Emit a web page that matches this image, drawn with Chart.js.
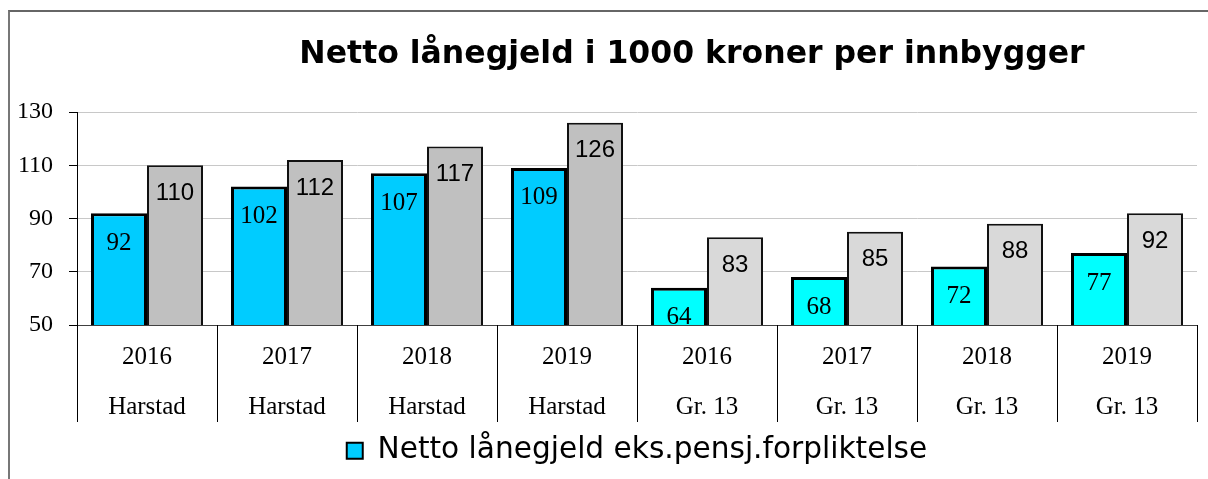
<!DOCTYPE html>
<html>
<head>
<meta charset="utf-8">
<script src="https://cdn.jsdelivr.net/npm/chart.js@4"></script>
<style>
  html, body { margin: 0; padding: 0; background: #fff; overflow: hidden; width: 1208px; height: 479px; }
  #frame { position: absolute; left: 8px; top: 10px; width: 1300px; height: 600px;
           border-left: 2px solid #777; border-top: 2px solid #666; }
  #chart { position: absolute; left: 0; top: 0; }
</style>
</head>
<body>
<div id="frame"></div>
<canvas id="chart" width="1208" height="479"></canvas>
<script>
// data
const years = ['2016', '2017', '2018', '2019', '2016', '2017', '2018', '2019']
const places = ['Harstad', 'Harstad', 'Harstad', 'Harstad', 'Gr. 13', 'Gr. 13', 'Gr. 13', 'Gr. 13']
const exclPension = [92, 102, 107, 109, 64, 68, 72, 77]
const inclPension = [110, 112, 117, 126, 83, 85, 88, 92]
const seriesNames = ['Netto lånegjeld eks.pensj.forpliktelse', 'Netto lånegjeld inkl.pensj.forpliktelse']
const yTicks = [50, 70, 90, 110, 130]
const chartTitle = 'Netto lånegjeld i 1000 kroner per innbygger'

const cyanColors = places.map(p => p === 'Harstad' ? '#00CCFF' : '#00FFFF')
const grayColors = places.map(p => p === 'Harstad' ? '#C0C0C0' : '#D9D9D9')

const sansFamily = '"DejaVu Sans", Verdana, "Liberation Sans", sans-serif'

// pick a font size so a text gets the width it has in the picture
const fitSize = (text, weight, width) => {
  const c = document.createElement('canvas').getContext('2d')
  c.font = weight + ' 100px ' + sansFamily
  return Math.round(100 * width / c.measureText(text).width * 10) / 10
}
const titleSize = fitSize(chartTitle, 'bold', 785)
const legendSize = fitSize(seriesNames[0], 'normal', 550)
const legendPad = 14
const bottomPad = Math.max(0, 61 - legendSize - 2 * legendPad)

// title sits right of centre in the original, so draw it by hand
const titlePlugin = {
  id: 'titleText',
  afterDraw(chart) {
    const ctx = chart.ctx
    ctx.save()
    ctx.font = 'bold ' + titleSize + 'px ' + sansFamily
    ctx.fillStyle = '#000'
    ctx.textAlign = 'center'
    ctx.textBaseline = 'middle'
    ctx.fillText(chartTitle, 692, 55)
    ctx.restore()
  }
}

// value labels inside top of each bar
const barLabels = {
  id: 'barLabels',
  afterDatasetsDraw(chart) {
    const ctx = chart.ctx
    ctx.save()
    ctx.fillStyle = '#000'
    ctx.textAlign = 'center'
    ctx.textBaseline = 'middle'
    chart.data.datasets.forEach((ds, di) => {
      ctx.font = di === 0 ? '25px "Liberation Serif"' : '24px "Liberation Sans"'
      chart.getDatasetMeta(di).data.forEach((bar, i) => {
        ctx.fillText(String(ds.data[i]), bar.x, bar.y + (di === 0 ? 30 : 28))
      })
    })
    ctx.restore()
  }
}

// vertical separators between the category cells under the axis
const separators = {
  id: 'separators',
  afterDraw(chart) {
    const xs = chart.scales.x
    const area = chart.chartArea
    const step = xs.getPixelForValue(1) - xs.getPixelForValue(0)
    const ctx = chart.ctx
    ctx.save()
    ctx.strokeStyle = '#000'
    ctx.lineWidth = 1
    for (let i = 0; i <= years.length; i++) {
      const x = Math.round(xs.getPixelForValue(i) - step / 2) + 0.5
      ctx.beginPath()
      ctx.moveTo(x, area.bottom)
      ctx.lineTo(x, area.bottom + 97)
      ctx.stroke()
    }
    ctx.restore()
  }
}

new Chart(document.getElementById('chart'), {
  type: 'bar',
  data: {
    labels: years.map((y, i) => [y, places[i]]),
    datasets: [{
      label: seriesNames[0],
      data: exclPension,
      backgroundColor: cyanColors,
      borderColor: '#000',
      borderWidth: 3
    }, {
      label: seriesNames[1],
      data: inclPension,
      backgroundColor: grayColors,
      borderColor: '#111',
      borderWidth: 2
    }]
  },
  options: {
    responsive: false,
    devicePixelRatio: 1,
    animation: false,
    layout: { padding: { top: 112, left: 10, right: 11, bottom: bottomPad } },
    datasets: { bar: { categoryPercentage: 0.8, barPercentage: 1.0 } },
    plugins: {
      title: { display: false },
      tooltip: { enabled: false },
      legend: {
        position: 'bottom',
        fullSize: false,
        labels: {
          font: { family: sansFamily, size: legendSize },
          color: '#000',
          boxWidth: 16,
          boxHeight: 16,
          padding: legendPad,
          generateLabels: () => [{
            text: seriesNames[0], fillStyle: '#00CCFF', strokeStyle: '#000',
            lineWidth: 2, datasetIndex: 0, hidden: false
          }]
        }
      }
    },
    scales: {
      x: {
        grid: { display: false },
        border: { display: true, color: '#404040', width: 1 },
        ticks: {
          color: '#000',
          padding: -1,
          maxRotation: 0,
          font: { family: '"Liberation Serif"', size: 25, lineHeight: 2 }
        },
        afterFit: s => { s.height = 97 }
      },
      y: {
        min: 50,
        max: 130,
        afterBuildTicks: s => { s.ticks = yTicks.map(v => ({ value: v })) },
        grid: { color: '#c8c8c8', tickColor: '#000', tickLength: 8 },
        border: { display: true, color: '#000', width: 1 },
        ticks: {
          color: '#000',
          padding: 16,
          font: { family: '"Liberation Serif"', size: 24 }
        },
        afterFit: s => { s.width = 67 }
      }
    }
  },
  plugins: [barLabels, separators, titlePlugin]
})
</script>
</body>
</html>
